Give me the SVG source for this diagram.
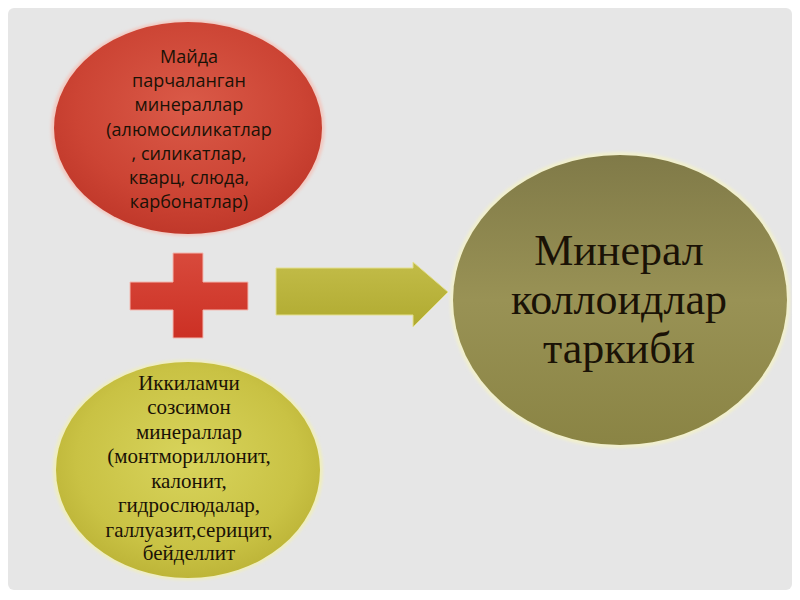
<svg xmlns="http://www.w3.org/2000/svg" width="800" height="600" viewBox="0 0 800 600">
<defs>
<radialGradient id="gRed" cx="50%" cy="40%" r="60%">
<stop offset="0" stop-color="#da5a48"/>
<stop offset="0.7" stop-color="#cc4434"/>
<stop offset="1" stop-color="#c0382a"/>
</radialGradient>
<radialGradient id="gYel" cx="50%" cy="45%" r="60%">
<stop offset="0" stop-color="#d8d45c"/>
<stop offset="0.7" stop-color="#c9c244"/>
<stop offset="1" stop-color="#b9b034"/>
</radialGradient>
<linearGradient id="gBig" x1="0" y1="0" x2="0" y2="1">
<stop offset="0" stop-color="#807a48"/>
<stop offset="0.5" stop-color="#999255"/>
<stop offset="1" stop-color="#8a8444"/>
</linearGradient>
<linearGradient id="gArr" x1="0" y1="0" x2="0" y2="1">
<stop offset="0" stop-color="#c2bc48"/>
<stop offset="1" stop-color="#b0aa30"/>
</linearGradient>
<linearGradient id="gPlus" x1="0" y1="0" x2="0" y2="1">
<stop offset="0" stop-color="#d84a3c"/>
<stop offset="1" stop-color="#cc3024"/>
</linearGradient>
<filter id="glow" x="-10%" y="-10%" width="120%" height="120%">
<feGaussianBlur stdDeviation="1.5"/>
</filter>
</defs>
<style>
.t{fill:#1a1206;text-anchor:middle}
.s{font-family:"Open Sans","Liberation Sans",sans-serif;font-size:18px}
.y{font-family:"Liberation Serif",serif;font-size:21px}
.b{font-family:"Liberation Serif",serif;font-size:44px}
</style>
<rect x="0" y="0" width="800" height="600" fill="#ffffff"/>
<rect x="8" y="8" width="784" height="582" rx="6" fill="#e6e6e6"/>

<g id="node-red">
<ellipse cx="188" cy="128" rx="137" ry="108" fill="#f2c8c0" filter="url(#glow)"/>
<ellipse cx="188" cy="128" rx="134" ry="106" fill="url(#gRed)"/>
<text class="t s" x="189"><tspan x="189" y="63">Майда</tspan><tspan x="189" y="87">парчаланган</tspan><tspan x="189" y="111">минераллар</tspan><tspan x="189" y="136">(алюмосиликатлар</tspan><tspan x="189" y="160">, силикатлар,</tspan><tspan x="189" y="184">кварц, слюда,</tspan><tspan x="189" y="208">карбонатлар)</tspan></text>
</g>

<g id="node-yellow">
<ellipse cx="188" cy="470" rx="135" ry="110" fill="#f0eebc" filter="url(#glow)"/>
<ellipse cx="188" cy="470" rx="132" ry="108" fill="url(#gYel)"/>
<text class="t y"><tspan x="189" y="390">Иккиламчи</tspan><tspan x="189" y="414">созсимон</tspan><tspan x="189" y="439">минераллар</tspan><tspan x="189" y="463">(монтмориллонит,</tspan><tspan x="189" y="488">калонит,</tspan><tspan x="189" y="512">гидрослюдалар,</tspan><tspan x="189" y="537">галлуазит,серицит,</tspan><tspan x="189" y="560">бейделлит</tspan></text>
</g>

<g id="node-big">
<ellipse cx="620" cy="300" rx="170" ry="148" fill="#f2f0cc" filter="url(#glow)"/>
<ellipse cx="620" cy="300" rx="167" ry="145" fill="url(#gBig)"/>
<text class="t b"><tspan x="619" y="265">Минерал</tspan><tspan x="619" y="314">коллоидлар</tspan><tspan x="619" y="363">таркиби</tspan></text>
</g>

<g id="connectors">
<path id="plus" d="M173 253 H203 V282 H248 V310 H203 V338 H173 V310 H130 V282 H173 Z" fill="url(#gPlus)" stroke="#f3b8b0" stroke-width="1"/>
<path id="arrow" d="M276 268 H413 V262 L448 292 L413 327 V315 H276 Z" fill="url(#gArr)" stroke="#e4e090" stroke-width="1"/>
</g>
</svg>
